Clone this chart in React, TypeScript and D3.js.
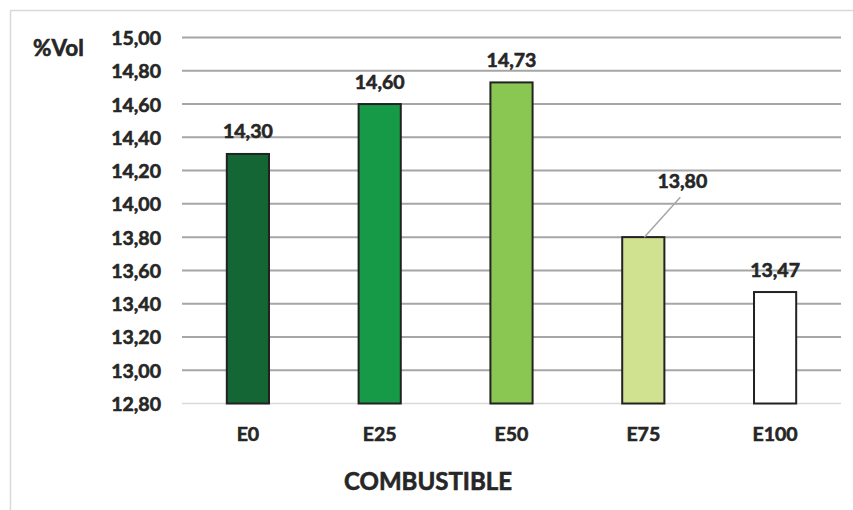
import React from "react";
import * as d3 from "d3";

const categories = ["E0", "E25", "E50", "E75", "E100"];
const values = [14.3, 14.6, 14.73, 13.8, 13.47];
const labels = ["14,30", "14,60", "14,73", "13,80", "13,47"];
const colors = ["#146634", "#179A48", "#8AC652", "#D0E290", "#FFFFFF"];
const yTicks = [12.8, 13.0, 13.2, 13.4, 13.6, 13.8, 14.0, 14.2, 14.4, 14.6, 14.8, 15.0];

const W = 853;
const H = 510;
const plot = { left: 182, right: 841, top: 37.5, bottom: 403.5 };
const FONT = "Lato, 'Open Sans', sans-serif";
const TEXT = "#262626";

const fmt = (v: number) => v.toFixed(2).replace(".", ",");

// bold labels get a thin outline in the fill colour to give them more weight
const textStyle = {
  fontWeight: 700,
  fill: TEXT,
  stroke: TEXT,
  strokeWidth: 0.6,
} as const;

export default function App() {
  const x = d3
    .scaleBand<string>()
    .domain(categories)
    .range([plot.left, plot.right])
    .paddingInner(0.68)
    .paddingOuter(0.34);
  const y = d3.scaleLinear().domain([12.8, 15]).range([plot.bottom, plot.top]);

  return (
    <svg
      width={W}
      height={H}
      style={{ position: "absolute", left: 0, top: 0, background: "#fff" }}
      fontFamily={FONT}
    >
      <rect x={10.5} y={10.5} width={W} height={H} fill="#fff" stroke="#d9d9d9" strokeWidth={1.5} />

      {yTicks.map((t, i) => (
        <g key={t}>
          <line
            x1={plot.left}
            x2={plot.right}
            y1={y(t)}
            y2={y(t)}
            stroke={i === 0 ? "#d9d9d9" : "#a6a6a6"}
            strokeWidth={i === 0 ? 1.5 : 2}
          />
          <text
            x={161}
            y={y(t)}
            textAnchor="end"
            dominantBaseline="central"
            fontSize={19.5}
            {...textStyle}
          >
            {fmt(t)}
          </text>
        </g>
      ))}

      <text x={33} y={47} dominantBaseline="central" fontSize={22.5} {...textStyle}>
        %Vol
      </text>

      {categories.map((c, i) => {
        const bx = x(c)!;
        const bw = x.bandwidth();
        const top = y(values[i]);
        const cx = bx + bw / 2;
        const shifted = c === "E75";
        const lx = shifted ? cx + 39 : cx;
        const ly = shifted ? top - 57 : top - 23;
        return (
          <g key={c}>
            <rect
              x={bx}
              y={top}
              width={bw}
              height={y(12.8) - top}
              fill={colors[i]}
              stroke="#222"
              strokeWidth={2}
            />
            {shifted && (
              <line x1={cx + 1} y1={top} x2={cx + 37} y2={top - 40} stroke="#a6a6a6" strokeWidth={1.5} />
            )}
            <text
              x={lx}
              y={ly}
              textAnchor="middle"
              dominantBaseline="central"
              fontSize={19.5}
              {...textStyle}
            >
              {labels[i]}
            </text>
            <text
              x={cx}
              y={433}
              textAnchor="middle"
              dominantBaseline="central"
              fontSize={19.5}
              {...textStyle}
            >
              {c}
            </text>
          </g>
        );
      })}

      <text
        x={428}
        y={480}
        textAnchor="middle"
        dominantBaseline="central"
        fontSize={24}
        {...textStyle}
      >
        COMBUSTIBLE
      </text>
    </svg>
  );
}
